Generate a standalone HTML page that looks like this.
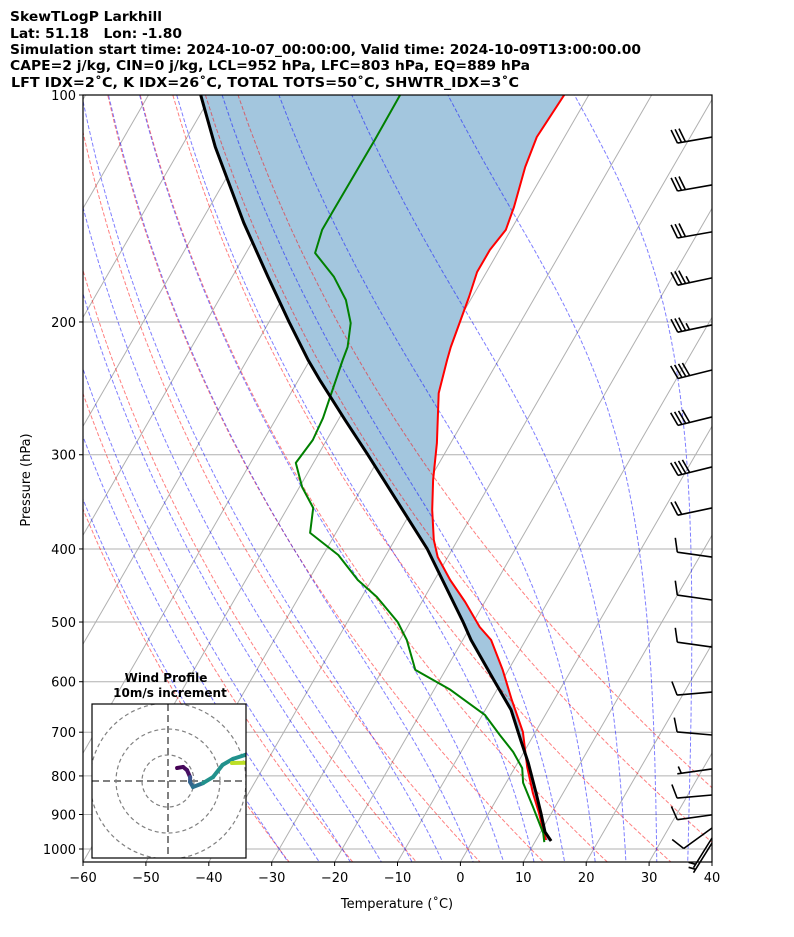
<!DOCTYPE html>
<html><head><meta charset="utf-8"><style>
html,body{margin:0;padding:0;background:#fff;}
svg{display:block;font-family:"DejaVu Sans","Liberation Sans",sans-serif;}
</style></head><body>
<svg id="chart" width="794" height="937" viewBox="0 0 794 937" xmlns="http://www.w3.org/2000/svg">
<defs><clipPath id="plotclip"><rect x="83" y="95" width="629" height="767"/></clipPath>
<clipPath id="hodoclip"><rect x="92" y="704" width="154" height="154"/></clipPath></defs>
<g font-weight="bold" font-size="13" fill="#000">
<text x="10" y="21" textLength="152" lengthAdjust="spacingAndGlyphs">SkewTLogP Larkhill</text>
<text x="10" y="38" textLength="172" lengthAdjust="spacingAndGlyphs" xml:space="preserve">Lat: 51.18   Lon: -1.80</text>
<text x="10" y="54" textLength="631" lengthAdjust="spacingAndGlyphs">Simulation start time: 2024-10-07_00:00:00, Valid time: 2024-10-09T13:00:00.00</text>
<text x="10" y="70" textLength="520" lengthAdjust="spacingAndGlyphs">CAPE=2 j/kg, CIN=0 j/kg, LCL=952 hPa, LFC=803 hPa, EQ=889 hPa</text>
<text x="11" y="87" textLength="508" lengthAdjust="spacingAndGlyphs">LFT IDX=2˚C, K IDX=26˚C, TOTAL TOTS=50˚C, SHWTR_IDX=3˚C</text>
</g>
<g id="plot" clip-path="url(#plotclip)"></g>
<g id="barbs"></g>
<g id="axes"></g>
<g id="hodo"></g>
</svg>
<script>
// ---- data ----
const tempP = [100,113.7,124.6,140.8,151.0,160.5,171.7,185.3,215.9,224.6,248.5,289.4,324.1,355,389,410,439.8,470.4,507.6,528.2,578.8,634.5,699.6,778.6,843,896,943.6,972.8];
const tempT = [-53.9,-54.4,-53.5,-51.6,-50.8,-51.5,-51.5,-50.5,-48.8,-48.2,-46.5,-42.2,-39.4,-36.8,-33.8,-31.6,-27.5,-23.1,-18.5,-15.5,-10.9,-6.7,-2.0,1.9,5.2,8.0,10.2,11.6];
const dewP = [100,114.7,143.4,151,162,174.3,187,200.7,215.9,224.6,251.5,268.2,286.8,307.6,331,352.9,380.9,407.4,439.8,463.2,500,528.2,578.8,615,664,706,743.6,781,817,879.7,952.4,979];
const dewT = [-80,-79.9,-80,-80,-79,-73.8,-69.8,-66.9,-65.2,-64.8,-63.4,-62.6,-62.2,-62.8,-59.6,-55.9,-54.1,-47.6,-42.2,-37.6,-32,-28.9,-24.8,-17.4,-9.6,-5.4,-1.7,1.2,2.7,6.5,10.5,11.5];
const parcelP = [100,117.2,147.8,174.3,200,224.6,238.8,269.8,300,400,500,528,596.8,654,717,769,843,896,949.5,976];
const parcelT = [-111.7,-104.6,-93.1,-84.3,-76.8,-70.3,-66.6,-58.9,-52.1,-34.0,-21.6,-18.7,-11.4,-5.9,-1.6,1.7,5.7,8.3,10.7,12.5];
const barbP = [113.7,131.6,151.9,174.8,201.8,231.6,267.3,311.4,352.9,410,467.5,539.7,619.3,706,783,848,901,937.8,967,982];
const barbSpd = [30,30,30,35,35,40,40,40,20,10,10,10,10,10,5,10,10,10,5,5];
const barbDir = [260,260,260,258,258,256,256,256,258,278,278,278,265,275,262,265,262,234,212,212];
const hodoU = [3.5,5.8,7.3,8.5,8.5,9.6,13.5,17.3,21,25,29.6,35,42,40,30,24.6];
const hodoV = [5,5.4,4.2,1.5,-0.4,-2.3,-0.8,1.5,6.2,8.5,10,12,14,9,7,6.9];
const xTicks = [-60,-50,-40,-30,-20,-10,0,10,20,30,40];
const yTicks = [100,200,300,400,500,600,700,800,900,1000];

const NS="http://www.w3.org/2000/svg";
const X0=83,X1=712,Y0=95,Y1=862,PXT=6.29,SK=0.5774;
function yOf(p){return 95+754*Math.log10(p/100);}
function xOf(T,p){return X0+(T+60)*PXT+(Y1-yOf(p))*SK;}
function mk(tag,attrs,parent){const e=document.createElementNS(NS,tag);for(const k in attrs)e.setAttribute(k,attrs[k]);if(parent)parent.appendChild(e);return e;}
const plot=document.getElementById('plot'),axes=document.getElementById('axes');
function poly(Ts,Ps){return Ts.map((t,i)=>xOf(t,Ps[i]).toFixed(1)+','+yOf(Ps[i]).toFixed(1)).join(' ');}
const pGrid=[];for(let p=90;p<=1060;p+=10)pGrid.push(p);

yTicks.forEach(p=>{const l=mk('line',{x1:X0,x2:X1,y1:yOf(p),y2:yOf(p),stroke:'#b0b0b0','stroke-width':1},plot);

});
for(let T=-140;T<=40;T+=10){const l=mk('line',{x1:xOf(T,1040),y1:yOf(1040),x2:xOf(T,90),y2:yOf(90),stroke:'#b0b0b0','stroke-width':1},plot);

}
const fillPts=tempT.map((t,i)=>xOf(t,tempP[i])+','+yOf(tempP[i])).concat(parcelT.map((t,i)=>xOf(t,parcelP[i])+','+yOf(parcelP[i])).reverse()).join(' ');
const f=mk('polygon',{points:fillPts,fill:'#a3c6de',stroke:'none'},plot);


for(let t0=-30;t0<=50;t0+=10){const th=t0+273.15;const pts=pGrid.map(p=>xOf(th*Math.pow(p/1000,0.2857)-273.15,p).toFixed(1)+','+yOf(p).toFixed(1)).join(' ');
const l=mk('polyline',{points:pts,fill:'none',stroke:'#ff0000','stroke-opacity':0.5,'stroke-width':1,'stroke-dasharray':'4,2'},plot);

}
function dTdp(T,p){const Tc=T-273.15;const es=6.112*Math.exp(17.67*Tc/(Tc+243.5));const rs=0.622*es/(p-es);const Rd=287.04,Cp=1005.7,Lv=2.501e6;
return (1/p)*(Rd*T+Lv*rs)/(Cp+Lv*Lv*rs*0.622/(Rd*T*T));}
function moist(t0){const res={};let T=t0+273.15,p=1000;res[1000]=T;
for(let k=0;k<91;k++){const h=-10;const k1=dTdp(T,p),k2=dTdp(T+h/2*k1,p+h/2),k3=dTdp(T+h/2*k2,p+h/2),k4=dTdp(T+h*k3,p+h);T+=h/6*(k1+2*k2+2*k3+k4);p+=h;res[Math.round(p)]=T;}
T=t0+273.15;p=1000;for(let k=0;k<6;k++){const h=10;const k1=dTdp(T,p),k2=dTdp(T+h/2*k1,p+h/2),k3=dTdp(T+h/2*k2,p+h/2),k4=dTdp(T+h*k3,p+h);T+=h/6*(k1+2*k2+2*k3+k4);p+=h;res[Math.round(p)]=T;}
return res;}
for(let t0=-30;t0<=45;t0+=5){const r=moist(t0);const pts=pGrid.map(p=>xOf(r[p]-273.15,p).toFixed(1)+','+yOf(p).toFixed(1)).join(' ');
const l=mk('polyline',{points:pts,fill:'none',stroke:'#0000ff','stroke-opacity':0.5,'stroke-width':1,'stroke-dasharray':'4,2'},plot);

}
const tl=mk('polyline',{points:poly(tempT,tempP),fill:'none',stroke:'#ff0000','stroke-width':2,'stroke-linejoin':'round'},plot);


const dl=mk('polyline',{points:poly(dewT,dewP),fill:'none',stroke:'#008000','stroke-width':2,'stroke-linejoin':'round'},plot);


const pl=mk('polyline',{points:poly(parcelT,parcelP),fill:'none',stroke:'#000','stroke-width':3,'stroke-linejoin':'round'},plot);



const bg=document.getElementById('barbs');
barbP.forEach((p,i)=>{const y=yOf(p),x=X1,a=barbDir[i]*Math.PI/180;const dx=Math.sin(a),dy=-Math.cos(a);const L=35;
const tx=x+dx*L,ty=y+dy*L;const px=-dy,py=dx;let d='M'+x+','+y+'L'+tx.toFixed(1)+','+ty.toFixed(1);
let s=barbSpd[i],pos=0;
while(s>=10){const bx=tx-dx*pos,by=ty-dy*pos;d+='M'+bx.toFixed(1)+','+by.toFixed(1)+'l'+(px*14+dx*4).toFixed(1)+','+(py*14+dy*4).toFixed(1);s-=10;pos+=4;}
if(s>=5){if(pos===0)pos=4;const bx=tx-dx*pos,by=ty-dy*pos;d+='M'+bx.toFixed(1)+','+by.toFixed(1)+'l'+(px*7+dx*2).toFixed(1)+','+(py*7+dy*2).toFixed(1);}
const b=mk('path',{d:d,fill:'none',stroke:'#000','stroke-width':1.6},bg);

});

mk('rect',{x:X0,y:Y0,width:X1-X0,height:Y1-Y0,fill:'none',stroke:'#000','stroke-width':1.2,},axes);
xTicks.forEach(T=>{const x=X0+(T+60)*PXT;mk('line',{x1:x,x2:x,y1:Y1,y2:Y1+4,stroke:'#000'},axes);
const t=mk('text',{x:x,y:Y1+20,'font-size':13,'text-anchor':'middle'},axes);t.textContent=(T<0?'\u2212'+(-T):T);

});
yTicks.forEach(p=>{const y=yOf(p);mk('line',{x1:X0-4,x2:X0,y1:y,y2:y,stroke:'#000'},axes);
const t=mk('text',{x:X0-7,y:y+5,'font-size':13,'text-anchor':'end'},axes);t.textContent=p;

});
const xt=mk('text',{x:397,y:908,'font-size':13,'text-anchor':'middle'},axes);xt.textContent='Temperature (˚C)';


const yt=mk('text',{x:30,y:480,'font-size':13,'text-anchor':'middle',transform:'rotate(-90 30 480)'},axes);yt.textContent='Pressure (hPa)';



const hg=document.getElementById('hodo');const HC=[168,781],HS=2.6;
mk('rect',{x:92,y:704,width:154,height:154,fill:'#fff',stroke:'none'},hg);
const hin=mk('g',{'clip-path':'url(#hodoclip)'},hg);
[10,20,30].forEach(r=>{const c=mk('circle',{cx:HC[0],cy:HC[1],r:r*HS,fill:'none',stroke:'#808080','stroke-width':1.2,'stroke-dasharray':'4,3'},hin);

});
mk('line',{x1:92,x2:246,y1:HC[1],y2:HC[1],stroke:'#808080','stroke-width':2,'stroke-dasharray':'7,4'},hin);
mk('line',{x1:HC[0],x2:HC[0],y1:704,y2:858,stroke:'#808080','stroke-width':2,'stroke-dasharray':'7,4'},hin);
const vir=['#440154','#46085c','#471063','#3b528b','#33638d','#2c728e','#21918c','#21918c','#21918c','#21918c','#21918c','#21918c','#22a884','#7ad151','#bddf26','#fde725'];
for(let i=0;i<hodoU.length-1;i++){const s=mk('line',{x1:HC[0]+hodoU[i]*HS,y1:HC[1]-hodoV[i]*HS,x2:HC[0]+hodoU[i+1]*HS,y2:HC[1]-hodoV[i+1]*HS,stroke:vir[i],'stroke-width':4,'stroke-linecap':'round'},hin);

}
mk('rect',{x:92,y:704,width:154,height:154,fill:'none',stroke:'#000','stroke-width':1.2,},hg);
const h1=mk('text',{x:166,y:682,'font-size':12,'font-weight':'bold','text-anchor':'middle'},hg);h1.textContent='Wind Profile';


const h2=mk('text',{x:170,y:697,'font-size':12,'font-weight':'bold','text-anchor':'middle'},hg);h2.textContent='10m/s increment';


</script>
</body></html>
